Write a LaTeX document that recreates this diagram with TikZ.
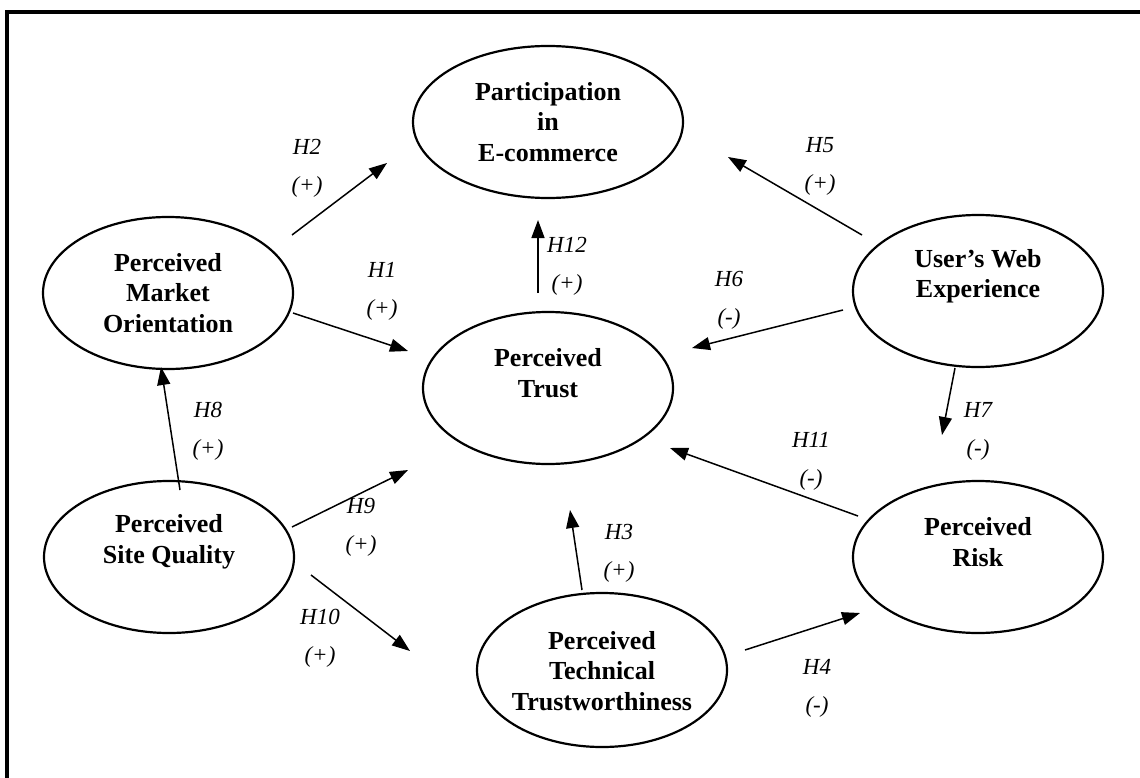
\documentclass[tikz,border=0pt]{standalone}
\usepackage{fontspec}
\setmainfont{Liberation Serif}
\usetikzlibrary{shapes.geometric,arrows.meta}
\tikzset{
 construct/.style={ellipse, draw, line width=2.2pt, minimum width=250pt, minimum height=152pt, inner sep=0pt},
 ctext/.style={align=center, font=\bfseries\fontsize{26}{30.5}\selectfont, inner sep=0pt},
 hyp/.style={line width=1.5pt, -{Triangle[length=18pt,width=13pt]}},
 hlabel/.style={align=center, font=\itshape\fontsize{23}{38}\selectfont, inner sep=0pt},
 frameline/.style={line width=3.2pt, line join=miter}
}
\begin{document}
\begin{tikzpicture}[x=1pt,y=-1pt]
\useasboundingbox (0,0) rectangle (1140,778);
% frame
\coordinate (fbl) at (7,778);
\coordinate (ftl) at (7,12);
\coordinate (ftr) at (1140,12);
\draw[frameline] (fbl) -- (ftl) -- (ftr);

% constructs
\node[construct, minimum width=270pt] (pec) at (548,122) {};
\node[ctext] (pecT) at (548,122) {Participation\\in\\E-commerce};
\node[construct] (pmo) at (168,293) {};
\node[ctext] (pmoT) at (168,293) {Perceived\\Market\\Orientation};
\node[construct] (uwe) at (978,291) {};
\node[ctext] (uweT) at (978,276) {User's Web\\Experience};
\node[construct] (ptr) at (548,388) {};
\node[ctext] (ptrT) at (548,373) {Perceived\\Trust};
\node[construct] (psq) at (169,557) {};
\node[ctext] (psqT) at (169,542) {Perceived\\Site Quality};
\node[construct] (prk) at (978,557) {};
\node[ctext] (prkT) at (978,542) {Perceived\\Risk};
\node[construct, minimum height=154pt] (ptt) at (602,670) {};
\node[ctext] (pttT) at (602,671) {Perceived\\Technical\\Trustworthiness};

% arrow end points
\coordinate (h2s) at (292,235);  \coordinate (h2e) at (387,163);
\coordinate (h5s) at (862,235);  \coordinate (h5e) at (728,157);
\coordinate (h12s) at (538,293); \coordinate (h12e) at (538,220);
\coordinate (h1s) at (293,313);  \coordinate (h1e) at (408,351);
\coordinate (h6s) at (843,310);  \coordinate (h6e) at (692,348);
\coordinate (h11s) at (858,516); \coordinate (h11e) at (670,448);
\coordinate (h7s) at (955,368);  \coordinate (h7e) at (942,435);
\coordinate (h8s) at (180,490);  \coordinate (h8e) at (161,367);
\coordinate (h9s) at (292,527);  \coordinate (h9e) at (408,470);
\coordinate (h3s) at (582,590);  \coordinate (h3e) at (570,510);
\coordinate (h10s) at (311,575); \coordinate (h10e) at (410,651);
\coordinate (h4s) at (745,650);  \coordinate (h4e) at (860,613);

\draw[hyp] (h2s) -- (h2e);
\draw[hyp] (h5s) -- (h5e);
\draw[hyp] (h12s) -- (h12e);
\draw[hyp] (h1s) -- (h1e);
\draw[hyp] (h6s) -- (h6e);
\draw[hyp] (h11s) -- (h11e);
\draw[hyp] (h7s) -- (h7e);
\draw[hyp] (h8s) -- (h8e);
\draw[hyp] (h9s) -- (h9e);
\draw[hyp] (h3s) -- (h3e);
\draw[hyp] (h10s) -- (h10e);
\draw[hyp] (h4s) -- (h4e);

% labels
\node[hlabel] (l2) at (307,168) {H2\\(+)};
\node[hlabel] (l5) at (820,166) {H5\\(+)};
\node[hlabel] (l12) at (567,266) {H12\\(+)};
\node[hlabel] (l1) at (382,291) {H1\\(+)};
\node[hlabel] (l6) at (729,300) {H6\\(-)};
\node[hlabel] (l11) at (811,461) {H11\\(-)};
\node[hlabel] (l7) at (978,431) {H7\\(-)};
\node[hlabel] (l8) at (208,431) {H8\\(+)};
\node[hlabel] (l9) at (361,527) {H9\\(+)};
\node[hlabel] (l3) at (619,553) {H3\\(+)};
\node[hlabel] (l10) at (320,638) {H10\\(+)};
\node[hlabel] (l4) at (817,688) {H4\\(-)};
\end{tikzpicture}
\end{document}
